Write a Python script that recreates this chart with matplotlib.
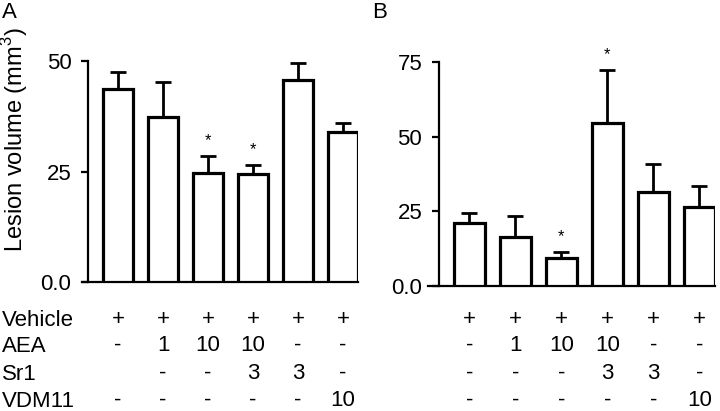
import matplotlib
matplotlib.use("Agg")
import matplotlib.pyplot as plt
import matplotlib.transforms as mtransforms
import numpy as np

plt.rcParams["font.family"] = ["Liberation Sans", "DejaVu Sans"]
plt.rcParams["mathtext.fontset"] = "custom"
plt.rcParams["mathtext.rm"] = "Liberation Sans"

# panel A
a_means = [43.6, 37.3, 24.7, 24.4, 45.7, 34.0]
a_err = [3.8, 8.0, 3.8, 2.1, 3.9, 1.9]
a_stars = [2, 3]
# panel B
b_means = [21.0, 16.3, 9.3, 54.5, 31.6, 26.3]
b_err = [3.6, 7.2, 2.2, 17.7, 9.3, 7.3]
b_stars = [2, 3]

row_names = ["Vehicle", "AEA", "Sr1", "VDM11"]
a_table = [["+", "+", "+", "+", "+", "+"],
           ["-", "1", "10", "10", "-", "-"],
           ["", "-", "-", "3", "3", "-"],
           ["-", "-", "-", "-", "-", "10"]]
b_table = [["+", "+", "+", "+", "+", "+"],
           ["-", "1", "10", "10", "-", "-"],
           ["-", "-", "-", "3", "3", "-"],
           ["-", "-", "-", "-", "-", "10"]]

W, H = 720, 411
fig = plt.figure(figsize=(7.2, 4.11), dpi=100)


def px_axes(left, right, bottom, top):
    return fig.add_axes([left / W, 1 - bottom / H, (right - left) / W, (bottom - top) / H])


def draw_panel(ax, means, err, stars, ymax, yticks, yticklabels, xlim, spine_x, table):
    x = np.arange(len(means))
    ax.bar(x, means, width=0.66, facecolor="white", edgecolor="black", linewidth=2.3, zorder=3)
    ax.errorbar(x, means, yerr=[np.zeros(len(err)), err], fmt="none", ecolor="black",
                elinewidth=2, capsize=6, capthick=2, zorder=2)
    for i in stars:
        ax.annotate("*", (x[i], means[i] + err[i]), xytext=(0, 11), textcoords="offset points",
                    ha="center", va="center", fontsize=12, annotation_clip=False)
    ax.set_xlim(*xlim)
    ax.set_ylim(0, ymax)
    for s in ["top", "right"]:
        ax.spines[s].set_visible(False)
    ax.spines["left"].set_position(("data", spine_x))
    ax.spines["left"].set_linewidth(1.6)
    ax.spines["bottom"].set_linewidth(1.6)
    ax.set_xticks([])
    ax.set_yticks(yticks)
    ax.set_yticklabels(yticklabels)
    ax.tick_params(axis="y", length=5, width=1.6, labelsize=16, pad=7)
    ax.set_facecolor("none")
    trans = mtransforms.blended_transform_factory(ax.transData, fig.transFigure)
    row_y = [325, 351, 379, 406]
    for r, row in enumerate(table):
        for i, val in enumerate(row):
            ax.text(x[i], 1 - row_y[r] / H, val, transform=trans, ha="center",
                    va="baseline", fontsize=16, clip_on=False)
    return row_y


axA = px_axes(82, 358, 282, 61)
row_y = draw_panel(axA, a_means, a_err, a_stars, 50, [0, 25, 50], ["0.0", "25", "50"],
                   (-0.8, 5.33), -0.667, a_table)
axA.spines["left"].set_bounds(0, 50)

axB = px_axes(428, 715, 286, 62)
draw_panel(axB, b_means, b_err, b_stars, 75, [0, 25, 50, 75], ["0.0", "25", "50", "75"],
           (-0.9, 5.34), -0.663, b_table)

for r, name in enumerate(row_names):
    fig.text(2 / W, 1 - (row_y[r] + 1) / H, name, ha="left", va="baseline", fontsize=16)

fig.text(15 / W, 1 - 140 / H, "Lesion volume (mm$^{3}$)", rotation=90, ha="center",
         va="center", fontsize=17)
fig.text(2 / W, 1 - 18 / H, "A", fontsize=16, ha="left", va="baseline")
fig.text(372 / W, 1 - 18 / H, "B", fontsize=16, ha="left", va="baseline")

fig.savefig("out.png", dpi=100)
